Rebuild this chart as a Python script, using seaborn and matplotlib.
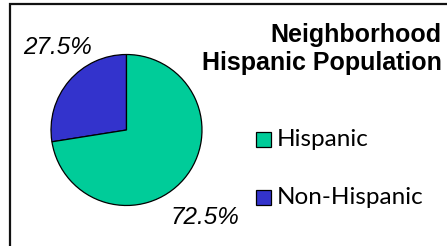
"""
Neighborhood Hispanic population pie chart
"""
import matplotlib
matplotlib.use('Agg')
import matplotlib.pyplot as plt
from matplotlib.patches import Rectangle
import seaborn as sns

# Data
categories = ['Non-Hispanic', 'Hispanic']
shares = [27.5, 72.5]
legend_order = ['Hispanic', 'Non-Hispanic']
title_lines = ['Neighborhood', 'Hispanic Population']

sns.set_theme(style='white')
plt.rcParams['font.family'] = ['Liberation Sans', 'DejaVu Sans']

colors = {'Hispanic': '#00CC99', 'Non-Hispanic': '#3333CC'}

W, H = 447, 246
fig = plt.figure(figsize=(W / 100, H / 100), dpi=100)
fig.patch.set_facecolor('white')

# outer frame (runs off the right and bottom edges)
fig.patches.append(Rectangle((10 / W, -0.1), 1.2, (H - 4) / H + 0.1,
                             transform=fig.transFigure, fill=False,
                             edgecolor='#111111', linewidth=1.6))

# pie axes: centre (127, 130), radius 77 px
cx, cy, r = 126.5, 130, 77
ax = fig.add_axes([(cx - r) / W, 1 - (cy + r) / H, 2 * r / W, 2 * r / H])
ax.pie(shares, colors=[colors[c] for c in categories], startangle=90,
       counterclock=True, radius=1,
       wedgeprops=dict(edgecolor='black', linewidth=0.9))
ax.set_xlim(-1.02, 1.02)
ax.set_ylim(-1.02, 1.02)
ax.set_aspect('equal')
ax.axis('off')

# percentage labels
label_pos = {'Non-Hispanic': (58, 48), 'Hispanic': (205, 218)}
for cat, val in zip(categories, shares):
    x, y = label_pos[cat]
    fig.text(x / W, 1 - y / H, f'{val}%', fontsize=17.5, style='italic',
             ha='center', va='center', color='black')

# title
fig.text(442 / W, 1 - 35 / H, title_lines[0], fontsize=18, fontweight='bold',
         ha='right', va='center', color='black')
fig.text(442 / W, 1 - 63 / H, title_lines[1], fontsize=18, fontweight='bold',
         ha='right', va='center', color='black')

# legend
leg_y = {'Hispanic': 140, 'Non-Hispanic': 198}
for cat in legend_order:
    y = leg_y[cat]
    fig.patches.append(Rectangle((256 / W, 1 - (y + 7) / H), 15 / W, 15 / H,
                                 transform=fig.transFigure,
                                 facecolor=colors[cat], edgecolor='black',
                                 linewidth=0.9))
    fig.text(277 / W, 1 - y / H, cat, fontsize=17.5, family=['Lato', 'DejaVu Sans'],
             ha='left', va='center', color='black')

fig.savefig('out.png', dpi=100)
